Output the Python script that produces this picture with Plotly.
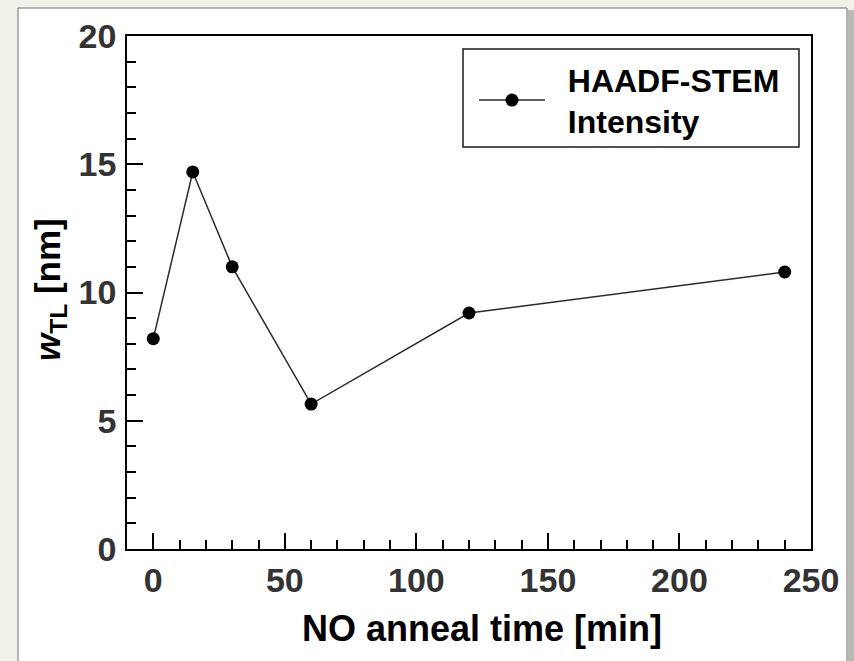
import plotly.graph_objects as go

# NO anneal time (min) and measured transition-layer width (nm)
anneal_time = [0, 15, 30, 60, 120, 240]
w_tl = [8.2, 14.7, 11.0, 5.65, 9.2, 10.8]

series_name = "HAADF-STEM<br>Intensity"
x_title = "NO anneal time [min]"
y_title = "<i>w</i><sub>TL</sub> [nm]"

W, H = 854, 661
L, R, T, B = 127, 43, 36, 112
PW, PH = W - L - R, H - T - B


def px(xp):
    return (xp - L) / PW


def py(yp):
    return (H - B - yp) / PH


FONT = "Liberation Sans, Arial, sans-serif"
GAP = "&nbsp;&nbsp;"

fig = go.Figure()
fig.add_trace(go.Scatter(
    x=anneal_time, y=w_tl, mode="lines+markers",
    name=GAP + series_name.replace("<br>", "<br>" + GAP),
    line=dict(color="#2a2a2a", width=1.5),
    marker=dict(color="black", size=13, symbol="circle"),
))

axis_common = dict(
    showgrid=False, zeroline=False, showline=True, linecolor="black",
    linewidth=1.6, mirror=True, ticks="inside", tickcolor="black",
    tickwidth=1.5, ticklen=16,
    tickfont=dict(family=FONT, size=34, color="#333333", weight="bold"),
)

fig.update_xaxes(
    range=[-10, 250], tick0=0, dtick=50,
    minor=dict(dtick=10, ticks="inside", ticklen=9, tickwidth=1.5, tickcolor="black"),
    **axis_common,
)
fig.update_yaxes(
    range=[0, 20], tick0=0, dtick=5, ticklabelstandoff=2,
    minor=dict(dtick=1, ticks="inside", ticklen=9, tickwidth=1.5, tickcolor="black"),
    **axis_common,
)

fig.update_layout(
    width=W, height=H,
    margin=dict(l=L, r=R, t=T, b=B, pad=0),
    paper_bgcolor="#f2f1e9", plot_bgcolor="white",
    showlegend=True,
    legend=dict(
        x=px(474), y=py(52), xanchor="left", yanchor="top",
        bgcolor="rgba(0,0,0,0)", borderwidth=0,
        font=dict(family=FONT, size=32, color="black", weight="bold"),
        itemwidth=66,
    ),
    shapes=[
        # white card behind the chart
        dict(type="rect", xref="paper", yref="paper", layer="below",
             x0=px(18), x1=px(847), y0=py(H + 20), y1=py(8),
             fillcolor="white", line=dict(color="#6e6e6e", width=1)),
        # soft shadow along the right edge of the card
        dict(type="rect", xref="paper", yref="paper", layer="below",
             x0=px(848), x1=px(855), y0=py(H + 20), y1=py(10),
             fillcolor="#b8b8b4", line=dict(width=0)),
        # legend frame
        dict(type="rect", xref="paper", yref="paper", layer="above",
             x0=px(463), x1=px(799), y0=py(147), y1=py(49),
             fillcolor="rgba(0,0,0,0)", line=dict(color="#1a1a1a", width=1.5)),
    ],
    annotations=[
        dict(text=x_title, xref="paper", yref="paper",
             x=px(482), y=py(628), xanchor="center", yanchor="middle",
             showarrow=False,
             font=dict(family=FONT, size=36, color="black", weight="bold")),
        dict(text=y_title, xref="paper", yref="paper",
             x=px(50), y=py(290), xanchor="center", yanchor="middle",
             textangle=-90, showarrow=False,
             font=dict(family=FONT, size=35, color="black", weight="bold")),
    ],
)

fig.write_html("out.html")
